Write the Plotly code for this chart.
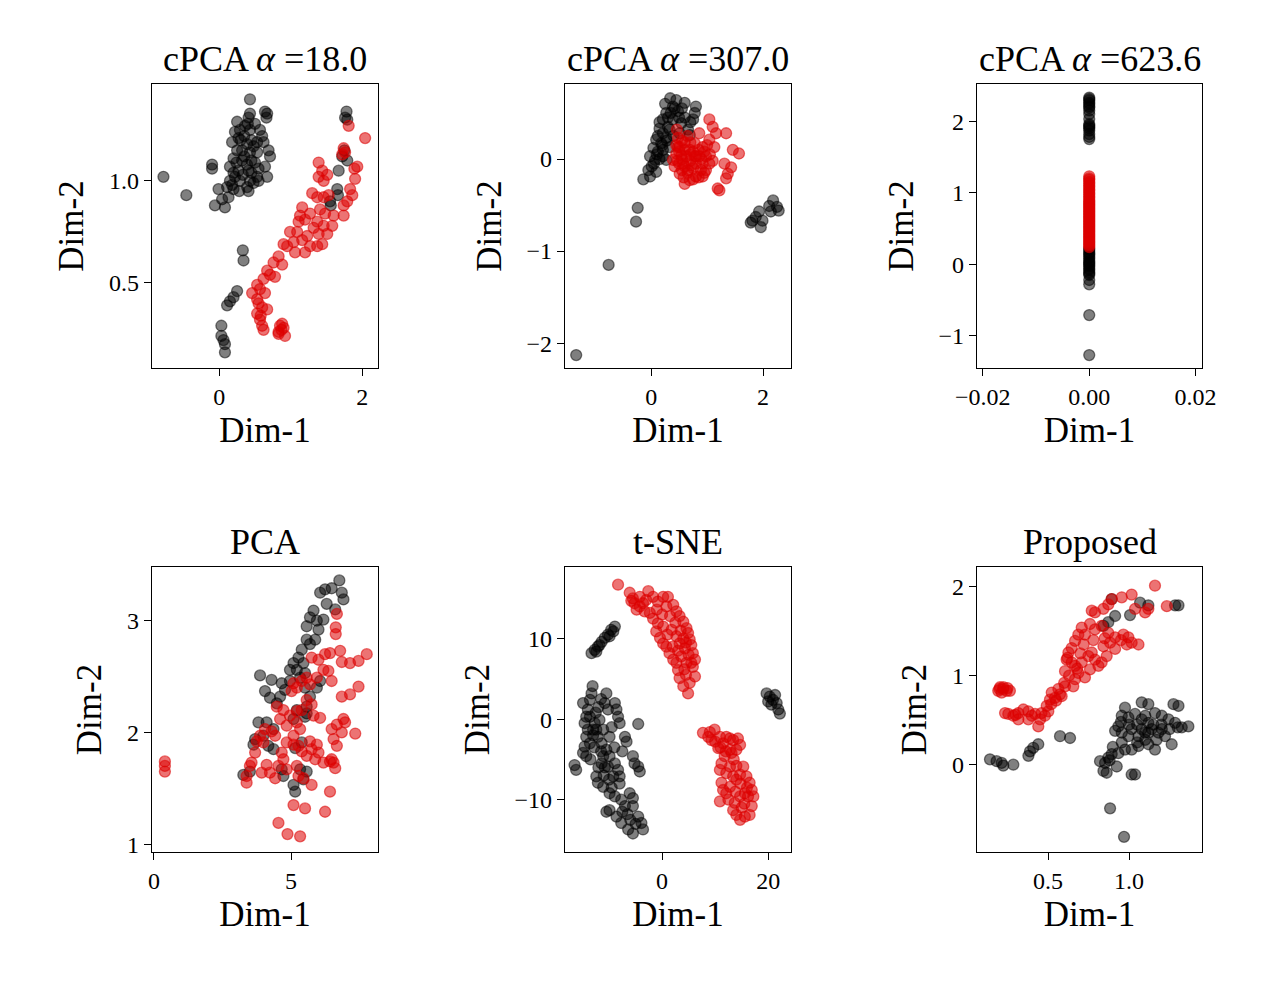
import plotly.graph_objects as go

# ---------------- data ----------------
titles = ["cPCA <i>α</i> =18.0", "cPCA <i>α</i> =307.0", "cPCA <i>α</i> =623.6",
          "PCA", "t-SNE", "Proposed"]

# Panel 1: cPCA alpha=18.0
p1_black = [(0.43,1.40),(0.43,1.33),(0.64,1.34),(0.67,1.33),(0.66,1.31),(0.25,1.29),(0.41,1.31),(0.36,1.27),(0.29,1.25),(0.22,1.24),(0.43,1.25),(0.57,1.25),(0.60,1.22),(0.53,1.19),(0.48,1.17),(0.18,1.19),(0.27,1.21),(0.39,1.18),(0.32,1.15),(0.43,1.14),(0.53,1.14),(0.69,1.15),(0.71,1.12),(0.20,1.11),(0.15,1.07),(0.20,1.04),(0.27,1.05),(0.39,1.08),(0.41,1.05),(0.43,1.00),(0.39,0.97),(0.48,0.99),(0.53,1.02),(0.64,1.07),(0.67,1.02),(0.29,1.00),(0.15,1.00),(0.11,0.97),(0.20,0.96),(-0.01,0.96),(-0.10,1.08),(-0.10,1.06),(-0.78,1.02),(-0.46,0.93),(-0.06,0.88),(0.04,0.91),(0.08,0.87),(0.13,0.92),(0.41,0.95),(0.55,1.00),(0.62,1.19),(0.24,1.09),(0.32,1.10),(0.50,1.09),(0.55,1.06),
            (0.30,1.20),(0.35,1.22),(0.45,1.20),(0.25,1.15),(0.35,1.12),(0.45,1.10),(0.22,1.02),(0.33,1.03),(0.45,1.04),(0.40,1.28),(0.50,1.28),(0.18,0.98),(0.28,0.95),
            (1.78,1.34),(1.76,1.31),(1.79,1.30),(1.75,1.15),(1.72,1.12),(1.79,1.10),(1.67,1.05),(1.65,0.96),(1.66,0.93),(1.55,0.90),(1.56,0.88),
            (0.33,0.66),(0.34,0.61),(0.25,0.46),(0.20,0.43),(0.15,0.41),(0.11,0.39),(0.03,0.29),(0.03,0.24),(0.06,0.22),(0.08,0.20),(0.08,0.16)]
p1_red = [(1.81,1.27),(2.04,1.21),(1.74,1.16),(1.76,1.14),(1.72,1.13),(1.93,1.07),(1.89,1.06),(1.39,1.09),(1.44,1.05),(1.39,1.02),(1.46,1.00),(1.51,1.03),(1.90,1.01),(1.83,0.96),(1.86,0.93),(1.74,0.88),(1.79,0.90),(1.30,0.94),(1.37,0.92),(1.46,0.92),(1.53,0.93),(1.16,0.87),(1.13,0.83),(1.27,0.84),(1.41,0.86),(1.48,0.84),(1.60,0.83),(1.74,0.83),(1.11,0.80),(1.20,0.81),(1.37,0.80),(1.46,0.78),(1.58,0.78),(0.99,0.75),(1.09,0.75),(1.23,0.73),(1.32,0.77),(1.39,0.74),(1.51,0.74),(0.90,0.69),(1.04,0.70),(1.16,0.71),(1.27,0.68),(1.37,0.68),(1.44,0.69),(0.95,0.68),(1.06,0.65),(1.20,0.65),(0.83,0.63),(0.76,0.60),(0.88,0.59),(0.67,0.56),(0.71,0.54),(0.62,0.52),(0.78,0.53),(0.53,0.49),(0.46,0.45),(0.57,0.47),(0.64,0.45),(0.53,0.42),(0.60,0.38),(0.67,0.37),(0.53,0.35),(0.57,0.32),(0.60,0.29),(0.62,0.27),(0.88,0.30),(0.90,0.28),(0.83,0.26),(0.92,0.24),(0.83,0.25),(0.55,0.40),(0.58,0.34),(0.85,0.29),(0.87,0.27)]

# Panel 2: cPCA alpha=307.0
p2_black = [(0.34,0.66),(0.45,0.64),(0.60,0.61),(0.80,0.57),(0.78,0.50),(0.75,0.43),(0.39,0.57),(0.48,0.52),(0.27,0.50),(0.21,0.43),(0.39,0.43),(0.54,0.39),(0.66,0.32),(0.69,0.26),(0.15,0.33),(0.21,0.28),(0.33,0.32),(0.09,0.21),(0.18,0.17),(0.27,0.23),(0.04,0.12),(0.12,0.08),(-0.02,0.03),(0.07,-0.01),(0.21,0.03),(0.01,-0.08),(-0.05,-0.12),(0.09,-0.14),(-0.14,-0.22),(-0.02,-0.19),(0.21,0.10),(0.27,-0.01),(0.51,0.28),(0.33,0.13),(0.15,0.40),(0.25,0.60),(0.10,0.05),(0.30,0.45),
            (0.30,0.35),(0.35,0.50),(0.42,0.55),(0.50,0.45),(0.60,0.45),(0.20,0.15),(0.15,0.00),(0.05,-0.05),(0.12,0.25),(0.28,0.20),(0.40,0.25),(0.55,0.55),(0.70,0.40),
            (-0.24,-0.53),(-0.27,-0.68),(-0.76,-1.15),(-1.34,-2.13),
            (2.18,-0.45),(2.25,-0.52),(2.28,-0.56),(2.11,-0.51),(2.14,-0.57),(1.93,-0.57),(1.87,-0.63),(1.78,-0.69),(1.96,-0.74),(1.99,-0.67),(1.81,-0.67)]
p2_red = [(0.46,0.32),(0.48,0.23),(0.48,0.13),(0.45,0.06),(0.39,-0.01),(0.42,-0.08),(0.51,-0.16),(0.60,-0.27),(0.69,-0.23),(0.57,-0.05),(0.63,0.03),(0.69,0.10),(0.78,0.17),(0.86,0.28),(0.92,0.13),(0.98,0.03),(1.04,-0.05),(0.89,-0.12),(0.80,-0.19),(0.92,-0.19),(1.04,0.21),(1.16,0.28),(1.13,0.13),(1.04,0.43),(1.10,0.35),(1.34,0.28),(1.46,0.10),(1.57,0.06),(1.31,-0.05),(1.43,-0.09),(1.37,-0.16),(1.34,-0.21),(1.19,-0.32),(1.22,-0.34),(0.80,0.03),(0.66,-0.12),(0.54,0.04),(0.98,-0.12),(0.78,0.03),(0.72,-0.07),(0.86,0.03),(0.92,-0.05),(0.51,0.13),(0.55,0.20),(0.60,0.10),(0.70,-0.02),(0.75,0.08),(0.50,-0.05),
          (0.45,0.15),(0.50,0.08),(0.55,0.00),(0.60,-0.08),(0.65,-0.15),(0.70,0.05),(0.75,-0.10),(0.80,-0.05),(0.85,0.10),(0.90,0.00),(0.95,0.08),(1.00,0.15),(0.60,0.18),(0.65,0.25),(0.70,0.18),(0.85,-0.20),(0.95,-0.15),(1.05,0.05),(1.10,-0.02),(0.55,-0.12),(0.47,-0.02),(0.58,-0.20),(0.75,-0.22)]

# Panel 3: cPCA alpha=623.6 (all points at Dim-1 = 0)
p3_black = [(0.0,2.33),(0.0,2.31),(0.0,2.29),(0.0,2.26),(0.0,2.24),(0.0,2.21),(0.0,2.19),(0.0,2.15),(0.0,2.10),(0.0,2.03),(0.0,1.96),(0.0,1.94),(0.0,1.92),(0.0,1.90),(0.0,1.87),(0.0,1.82),(0.0,1.78),(0.0,1.75),
            (0.0,0.22),(0.0,0.20),(0.0,0.17),(0.0,0.15),(0.0,0.13),(0.0,0.10),(0.0,0.08),(0.0,0.05),(0.0,0.03),(0.0,0.01),(0.0,-0.01),(0.0,-0.03),(0.0,-0.06),(0.0,-0.08),(0.0,-0.11),(0.0,-0.13),(0.0,-0.15),(0.0,-0.22),(0.0,-0.28),
            (0.0,-0.71),(0.0,-1.27)]
p3_red = [(0.0,1.23),(0.0,1.20),(0.0,1.18),(0.0,1.15),(0.0,1.13),(0.0,1.10),(0.0,1.08),(0.0,1.05),(0.0,1.03),(0.0,1.00),(0.0,0.98),(0.0,0.95),(0.0,0.93),(0.0,0.90),(0.0,0.88),(0.0,0.86),(0.0,0.84),(0.0,0.82),(0.0,0.80),(0.0,0.78),(0.0,0.76),(0.0,0.74),(0.0,0.72),(0.0,0.70),(0.0,0.68),(0.0,0.66),(0.0,0.64),(0.0,0.62),(0.0,0.60),(0.0,0.58),(0.0,0.56),(0.0,0.54),(0.0,0.52),(0.0,0.50),(0.0,0.48),(0.0,0.46),(0.0,0.44),(0.0,0.42),(0.0,0.40),(0.0,0.38),(0.0,0.36),(0.0,0.34),(0.0,0.32),(0.0,0.30),(0.0,0.28),(0.0,0.26),(0.0,0.24)]

# Panel 4: PCA
p4_black = [(6.76,3.36),(6.48,3.29),(6.24,3.28),(6.06,3.25),(6.85,3.25),(6.91,3.19),(6.30,3.15),(6.61,3.10),(5.82,3.09),(5.69,3.03),(5.94,3.00),(6.18,3.01),(6.00,2.92),(5.57,2.95),(5.57,2.83),(5.69,2.79),(5.88,2.83),(5.39,2.74),(5.27,2.67),(5.45,2.62),(5.09,2.62),(4.96,2.56),(5.21,2.56),(5.51,2.53),(5.33,2.49),(4.96,2.46),(4.66,2.44),(4.78,2.38),(4.60,2.32),(4.29,2.47),(3.87,2.51),(4.05,2.37),(4.23,2.31),(4.48,2.26),(5.51,2.40),(5.94,2.40),(6.06,2.46),(5.69,2.32),(5.57,2.23),(5.57,2.17),(5.51,2.14),(5.21,2.20),(5.09,2.12),(3.81,2.09),(4.11,2.09),(4.36,2.03),(3.99,1.97),(3.69,1.94),(3.63,1.89),(4.17,1.88),(4.36,1.85),(5.15,1.86),(5.39,1.91),(3.26,1.62),(3.50,1.65),(4.72,1.61),(4.66,1.67),(5.33,1.67),(5.57,1.65),(5.45,1.58),(5.09,1.53),(5.15,1.47)]
p4_red = [(6.67,3.06),(6.63,2.94),(6.63,2.88),(5.75,2.67),(6.00,2.65),(6.24,2.70),(6.42,2.71),(6.79,2.73),(6.85,2.63),(7.15,2.62),(7.46,2.64),(7.76,2.70),(6.18,2.56),(6.36,2.55),(6.48,2.46),(5.94,2.49),(5.57,2.49),(5.39,2.46),(5.09,2.44),(5.21,2.40),(5.02,2.37),(5.69,2.43),(7.46,2.41),(7.15,2.34),(6.85,2.32),(6.91,2.12),(6.97,2.09),(6.67,2.07),(6.48,2.03),(7.34,1.99),(6.85,2.00),(6.55,1.94),(6.67,1.88),(5.82,2.15),(6.06,2.13),(5.57,2.29),(5.75,2.25),(5.39,2.20),(5.21,2.19),(4.48,2.23),(4.72,2.20),(4.60,2.12),(4.84,2.06),(4.96,2.15),(5.21,2.09),(5.33,2.03),(5.09,1.97),(4.29,2.01),(4.42,1.97),(4.05,2.03),(3.87,1.97),(3.75,1.92),(3.99,1.91),(4.84,1.91),(5.09,1.89),(5.27,1.88),(5.69,1.92),(5.94,1.89),(5.75,1.85),(5.39,1.83),(4.66,1.82),(4.72,1.76),(5.57,1.79),(6.00,1.82),(5.88,1.76),(6.18,1.73),(6.42,1.74),(6.55,1.73),(6.61,1.68),(6.48,1.76),(3.69,1.82),(3.56,1.73),(3.50,1.70),(3.38,1.61),(3.38,1.55),(3.93,1.64),(4.11,1.71),(4.23,1.64),(4.42,1.59),(4.54,1.70),(4.84,1.67),(5.21,1.70),(5.27,1.61),(5.45,1.59),(5.75,1.53),(6.42,1.47),(5.09,1.35),(5.51,1.32),(6.24,1.29),(4.54,1.19),(4.87,1.09),(5.33,1.07),(0.40,1.74),(0.40,1.70),(0.40,1.65)]

# Panel 5: t-SNE
p5_black = [(-13.3,8.2),(-12.7,8.6),(-12.1,9.0),(-11.4,9.6),(-10.8,10.1),(-10.2,10.5),(-9.6,11.1),(-8.9,11.5),(-9.2,10.9),(-9.9,10.3),(-12.4,8.4),(-11.8,9.2),
            (19.7,3.2),(20.3,2.8),(20.9,2.4),(21.6,2.0),(21.9,1.2),(22.2,0.7),(20.0,2.2),(21.3,3.0),(20.6,1.8),
            (-13.1,4.1),(-13.3,3.2),(-13.6,2.4),(-14.0,1.2),(-14.3,0.3),(-14.6,-0.5),(-14.0,-1.3),(-14.3,-2.2),(-13.6,-3.0),(-14.6,-3.4),(-14.9,-4.2),(-14.3,-4.6),(-16.5,-5.7),(-16.2,-6.3),(-12.7,-0.5),(-12.4,-1.3),(-11.8,-0.1),(-12.1,-2.2),(-11.4,-3.0),(-10.5,3.2),(-10.8,2.0),(-10.2,1.2),(-8.9,2.0),(-8.6,1.2),(-8.3,0.3),(-8.0,-0.5),(-4.5,-0.6),(-7.0,-2.2),(-6.7,-2.8),(-10.5,-3.8),(-11.1,-4.6),(-11.4,-5.5),(-9.9,-4.6),(-8.9,-5.5),(-8.3,-6.3),(-8.0,-7.1),(-5.5,-4.6),(-5.2,-5.5),(-4.5,-5.9),(-4.2,-6.5),(-12.4,-7.1),(-12.1,-7.9),(-11.1,-8.4),(-9.9,-9.2),(-8.9,-9.6),(-7.7,-10.0),(-6.1,-9.2),(-5.5,-9.8),(-7.0,-10.8),(-5.5,-10.8),(-4.5,-12.1),(-3.9,-12.9),(-3.6,-13.7),(-5.5,-14.2),(-6.4,-13.7),(-10.5,-11.5),(-9.9,-11.3),(-8.6,-12.1),(-7.7,-12.9),(-13.0,-1.3),(-11.1,-1.3),(-14.9,2.0),(-13.6,0.3),(-9.9,-2.2),(-9.2,-7.1),(-10.2,-5.9),
            (-13.0,-2.0),(-12.8,-3.5),(-11.5,-4.0),(-10.8,-6.0),(-10.0,-7.5),(-9.5,-8.5),(-8.0,-8.0),(-7.5,-11.5),(-6.5,-11.8),(-5.0,-13.0),(-6.0,-12.5),(-12.0,1.5),(-11.5,2.5),(-12.5,0.8),(-9.5,-1.0),(-9.0,-3.5),(-7.5,-4.0),(-13.5,-5.0),(-12.0,-6.0),(-11.0,-7.0)]
p5_red = [(-8.3,16.7),(-6.1,15.7),(-5.5,15.0),(-5.2,14.4),(-4.2,14.0),(-3.3,13.4),(-2.3,13.2),(-2.6,15.9),(-1.7,15.2),(-0.8,14.6),(0.2,15.2),(1.1,15.2),(2.1,14.2),(2.7,13.4),(3.3,12.8),(4.0,12.1),(4.6,11.3),(4.9,10.7),(5.2,9.9),(5.5,9.2),(5.8,8.2),(6.2,7.4),(5.8,6.5),(6.2,5.3),(5.2,4.5),(4.9,3.2),(4.0,4.1),(3.3,5.1),(3.0,6.1),(2.7,7.0),(2.1,7.4),(1.4,8.2),(0.8,9.0),(0.2,9.4),(-0.4,10.1),(-1.1,10.9),(0.2,11.5),(-0.8,11.9),(-1.7,12.5),(3.3,9.4),(4.3,8.8),(3.6,7.8),(4.6,7.0),(1.8,11.1),(2.7,10.3),(0.8,14.0),(-4.2,15.2),(-3.6,14.4),
          (-5.8,14.7),(-4.8,13.6),(-3.0,14.8),(-1.0,13.6),(0.0,13.0),(1.5,12.8),(2.5,12.0),(3.5,11.0),(4.0,10.0),(4.5,9.5),(5.0,8.0),(5.5,7.0),(4.5,5.5),(4.2,6.2),(1.0,10.5),(2.0,9.0),(3.0,8.5),
          (7.7,-1.7),(8.7,-2.2),(9.3,-2.6),(9.9,-1.3),(10.9,-2.2),(11.5,-3.0),(12.1,-2.2),(12.8,-2.4),(13.4,-2.6),(14.3,-2.4),(14.7,-3.2),(14.0,-3.8),(13.1,-4.2),(11.8,-4.6),(11.2,-5.5),(10.9,-6.3),(12.1,-6.7),(12.8,-5.9),(13.4,-7.1),(14.0,-7.5),(14.7,-6.9),(15.9,-7.1),(16.5,-7.9),(16.9,-8.8),(17.2,-9.6),(16.2,-9.6),(15.6,-9.2),(14.7,-9.6),(13.7,-10.4),(13.4,-11.3),(14.0,-11.9),(14.7,-12.5),(15.6,-12.1),(16.5,-11.9),(16.9,-10.8),(10.9,-10.2),(11.5,-8.8),(11.2,-7.9),(12.1,-9.2),(12.8,-8.4),(15.3,-5.9),(12.8,-3.8),(10.6,-3.6),
          (9.0,-1.6),(10.0,-2.8),(11.0,-3.5),(12.0,-4.0),(13.5,-5.0),(14.0,-5.8),(14.8,-8.0),(15.5,-10.5),(15.0,-11.0),(13.8,-9.0),(12.5,-10.0),(16.0,-8.5)]

# Panel 6: Proposed
p6_black = [(1.284,1.79),(1.305,1.79),(1.119,1.79),(1.068,1.82),(1.006,1.68),(0.914,1.67),(0.872,1.60),(0.842,1.56),(0.893,1.86),
            (1.078,0.70),(1.119,0.68),(1.274,0.68),(1.305,0.66),(0.975,0.64),(0.955,0.55),(0.996,0.53),(1.037,0.57),(1.078,0.51),(1.119,0.47),(1.160,0.58),(1.202,0.55),(1.243,0.51),(1.284,0.47),(1.366,0.43),(1.325,0.42),(0.934,0.43),(0.914,0.38),(0.955,0.36),(1.016,0.40),(1.058,0.32),(1.099,0.36),(1.140,0.40),(1.181,0.36),(1.222,0.32),(1.263,0.23),(1.160,0.17),(1.119,0.23),(1.058,0.21),(1.016,0.17),(0.975,0.17),(0.934,0.13),(0.893,0.12),(0.872,0.08),(0.852,0.02),(0.821,0.04),(0.842,-0.07),(0.862,-0.09),(0.924,-0.02),(1.016,-0.11),(1.037,-0.11),(1.078,0.40),(1.202,0.40),(0.996,0.32),(0.955,0.25),(1.119,0.36),
            (1.00,0.45),(1.05,0.45),(1.10,0.55),(1.15,0.45),(1.20,0.45),(1.25,0.40),(1.30,0.42),(1.05,0.25),(1.10,0.28),(0.90,0.20),(0.88,0.05),(0.95,0.48),(1.17,0.28),
            (0.142,0.06),(0.183,0.04),(0.214,0.02),(0.224,-0.01),(0.286,0.00),(0.379,0.10),(0.389,0.15),(0.409,0.19),(0.440,0.23),(0.574,0.32),(0.636,0.30),
            (0.883,-0.49),(0.969,-0.81)]
p6_red = [(1.160,2.01),(1.016,1.91),(0.955,1.88),(0.893,1.86),(0.872,1.80),(0.842,1.75),(0.790,1.71),(0.770,1.73),(1.037,1.75),(1.099,1.71),(1.119,1.75),(1.233,1.78),(0.759,1.58),(0.708,1.54),(0.687,1.46),(0.728,1.46),(0.790,1.52),(0.831,1.56),(0.872,1.48),(0.914,1.43),(0.965,1.46),(0.996,1.43),(1.016,1.37),(1.058,1.35),(0.986,1.35),(0.883,1.37),(0.842,1.33),(0.914,1.30),(0.667,1.39),(0.646,1.31),(0.626,1.26),(0.615,1.18),(0.646,1.15),(0.605,1.05),(0.667,1.11),(0.708,1.15),(0.749,1.22),(0.770,1.26),(0.790,1.18),(0.831,1.15),(0.862,1.22),(0.811,1.11),(0.759,1.07),(0.687,1.03),(0.728,0.98),(0.667,0.96),(0.656,0.88),(0.605,0.88),(0.564,0.85),(0.574,0.79),(0.543,0.75),(0.512,0.73),(0.492,0.66),(0.502,0.60),(0.481,0.55),(0.451,0.51),(0.440,0.43),(0.420,0.57),(0.379,0.60),(0.348,0.62),(0.317,0.58),(0.286,0.55),(0.255,0.57),(0.235,0.58),(0.317,0.51),(0.379,0.51),(0.204,0.87),(0.224,0.85),(0.245,0.83),(0.265,0.83),(0.214,0.81),(0.193,0.83),(0.523,0.81),(0.584,0.77),
          (0.30,0.56),(0.40,0.55),(0.46,0.58),(0.52,0.68),(0.55,0.72),(0.60,0.92),(0.63,1.00),(0.70,1.25),(0.72,1.35),(0.78,1.40),(0.95,1.40),(0.85,1.42),(0.62,1.20),(0.68,1.08),(0.225,0.87),(0.20,0.85),(0.25,0.86)]

black_series = [p1_black, p2_black, p3_black, p4_black, p5_black, p6_black]
red_series = [p1_red, p2_red, p3_red, p4_red, p5_red, p6_red]

x_ranges = [[-0.94, 2.22], [-1.54, 2.5], [-0.0211, 0.0212], [-0.07, 8.17], [-18.3, 24.3], [0.062, 1.45]]
y_ranges = [[0.083, 1.475], [-2.27, 0.815], [-1.45, 2.52], [0.93, 3.48], [-16.5, 18.9], [-0.98, 2.22]]
x_tickvals = [[0, 2], [0, 2], [-0.02, 0.0, 0.02], [0, 5], [0, 20], [0.5, 1.0]]
x_ticktext = [["0", "2"], ["0", "2"], ["−0.02", "0.00", "0.02"], ["0", "5"], ["0", "20"], ["0.5", "1.0"]]
y_tickvals = [[0.5, 1.0], [-2, -1, 0], [-1, 0, 1, 2], [1, 2, 3], [-10, 0, 10], [0, 1, 2]]
y_ticktext = [["0.5", "1.0"], ["−2", "−1", "0"], ["−1", "0", "1", "2"], ["1", "2", "3"], ["−10", "0", "10"], ["0", "1", "2"]]

# ---------------- layout ----------------
W, H = 1276, 997
col_px = [(152, 378), (565, 791), (977, 1202)]
row_px = [(84, 368), (567, 852)]
FONT = "Liberation Serif, Times New Roman, serif"

fig = go.Figure()
layout = dict(width=W, height=H, margin=dict(l=0, r=0, t=0, b=0, autoexpand=False),
              paper_bgcolor="white", plot_bgcolor="white", showlegend=False,
              font=dict(family=FONT, color="black"))
annotations = []

for i in range(6):
    r, c = divmod(i, 3)
    xa = "xaxis" if i == 0 else f"xaxis{i+1}"
    ya = "yaxis" if i == 0 else f"yaxis{i+1}"
    xref = "x" if i == 0 else f"x{i+1}"
    yref = "y" if i == 0 else f"y{i+1}"
    x0, x1 = col_px[c]
    y0, y1 = row_px[r]
    dom_x = [x0 / W, x1 / W]
    dom_y = [1 - y1 / H, 1 - y0 / H]
    common = dict(showgrid=False, zeroline=False, showline=True, linecolor="black",
                  linewidth=1.3, mirror=True, ticks="outside", ticklen=7, tickwidth=1.2,
                  tickcolor="black", tickfont=dict(family=FONT, size=24, color="black"),
                  tickmode="array", automargin=False)
    layout[xa] = dict(common, domain=dom_x, anchor=yref, range=x_ranges[i],
                      tickvals=x_tickvals[i], ticktext=x_ticktext[i],
                      title=dict(text="Dim-1", font=dict(family=FONT, size=35), standoff=8))
    layout[ya] = dict(common, domain=dom_y, anchor=xref, range=y_ranges[i],
                      tickvals=y_tickvals[i], ticktext=y_ticktext[i],
                      title=dict(text="Dim-2", font=dict(family=FONT, size=35), standoff=14))
    annotations.append(dict(text=titles[i], xref="paper", yref="paper",
                            x=(dom_x[0] + dom_x[1]) / 2, y=dom_y[1], xanchor="center",
                            yanchor="bottom", yshift=3, showarrow=False,
                            font=dict(family=FONT, size=36, color="black")))

    bx = [p[0] for p in black_series[i]]
    by = [p[1] for p in black_series[i]]
    rx = [p[0] for p in red_series[i]]
    ry = [p[1] for p in red_series[i]]
    fig.add_trace(go.Scatter(x=bx, y=by, mode="markers", xaxis=xref, yaxis=yref,
                             marker=dict(size=11, color="rgba(0,0,0,0.5)",
                                         line=dict(color="rgba(0,0,0,0.5)", width=1.3))))
    fig.add_trace(go.Scatter(x=rx, y=ry, mode="markers", xaxis=xref, yaxis=yref,
                             marker=dict(size=11, color="rgba(221,0,0,0.55)",
                                         line=dict(color="rgba(221,0,0,0.55)", width=1.3))))

layout["annotations"] = annotations
fig.update_layout(**layout)
fig.write_html("out.html")
